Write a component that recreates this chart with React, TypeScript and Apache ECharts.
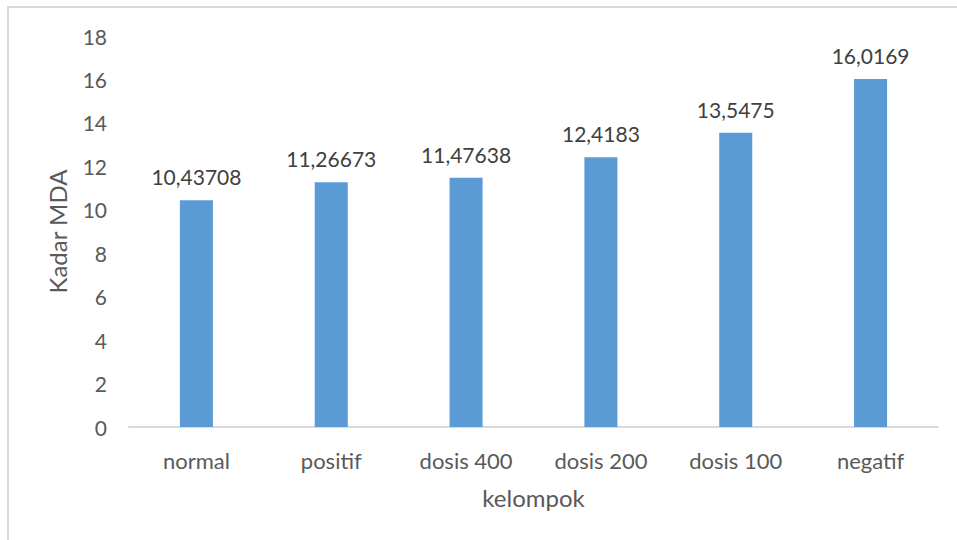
import React, { useEffect, useRef } from "react";
import * as echarts from "echarts";

const categories = ["normal", "positif", "dosis 400", "dosis 200", "dosis 100", "negatif"];
const values = [10.43708, 11.26673, 11.47638, 12.4183, 13.5475, 16.0169];
const yTicks = [0, 2, 4, 6, 8, 10, 12, 14, 16, 18];

const FONT = "Lato, 'Open Sans', sans-serif";

export default function App() {
  const ref = useRef<HTMLDivElement>(null);
  useEffect(() => {
    if (!ref.current) return;
    const chart = echarts.init(ref.current, null, { renderer: "svg" });
    chart.setOption({
      animation: false,
      backgroundColor: "#ffffff",
      grid: { left: 120, top: 28, width: 809, height: 391, containLabel: false },
      xAxis: {
        type: "category",
        data: categories,
        name: "kelompok",
        nameLocation: "middle",
        nameGap: 58,
        nameTextStyle: { color: "#595959", fontSize: 24, fontFamily: FONT },
        axisLine: { show: true, lineStyle: { color: "#d9d9d9", width: 2 } },
        axisTick: { show: false },
        axisLabel: { color: "#595959", fontSize: 22, fontFamily: FONT, margin: 22 },
      },
      yAxis: {
        type: "value",
        min: yTicks[0],
        max: yTicks[yTicks.length - 1],
        interval: 2,
        name: "Kadar MDA",
        nameLocation: "middle",
        nameGap: 60,
        nameTextStyle: { color: "#595959", fontSize: 24, fontFamily: FONT },
        axisLine: { show: false },
        axisTick: { show: false },
        splitLine: { show: false },
        axisLabel: { color: "#595959", fontSize: 21, fontFamily: FONT, margin: 22 },
      },
      series: [
        {
          type: "bar",
          data: values,
          barWidth: "24.5%",
          itemStyle: { color: "#5b9bd5" },
          label: {
            show: true,
            position: "top",
            distance: 13,
            color: "#404040",
            fontSize: 21,
            fontFamily: FONT,
            formatter: (p: any) => String(p.value).replace(".", ","),
          },
        },
      ],
    });
    return () => chart.dispose();
  }, []);
  return (
    <div
      style={{
        position: "absolute",
        left: 7,
        top: 6,
        borderLeft: "2px solid #d9d9d9",
        borderTop: "2px solid #d9d9d9",
        width: 950,
        height: 534,
        overflow: "hidden",
        background: "#fff",
      }}
    >
      <div ref={ref} style={{ width: 950, height: 534 }} />
    </div>
  );
}
